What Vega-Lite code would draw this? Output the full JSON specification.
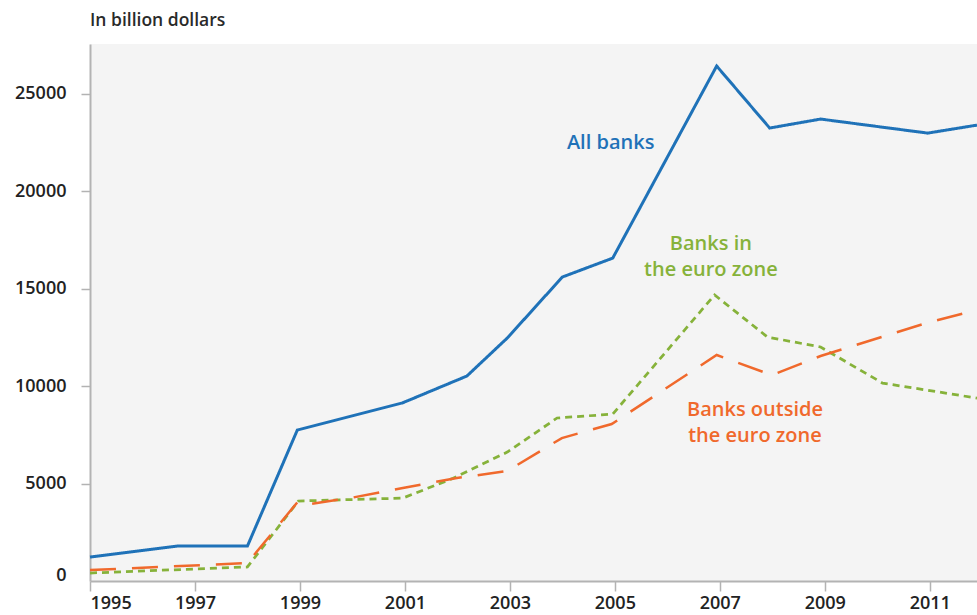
{
  "$schema": "https://vega.github.io/schema/vega-lite/v6.json",
  "autosize": {"type": "none"},
  "width": 887,
  "height": 537,
  "padding": {"left": 90, "top": 44, "right": 0, "bottom": 34},
  "background": "white",
  "config": {
    "view": {"fill": "#f4f4f4", "stroke": null},
    "font": "Open Sans"
  },
  "title": {
    "text": "In billion dollars",
    "anchor": "start",
    "frame": "group",
    "orient": "top",
    "baseline": "bottom",
    "offset": -3,
    "fontSize": 17.5,
    "fontWeight": 600,
    "color": "#2a2a2a",
    "font": "Open Sans"
  },
  "datasets": {
    "series": [
      {"series": "All banks", "year": 1995, "value": 1230},
      {"series": "All banks", "year": 1996.67, "value": 1795},
      {"series": "All banks", "year": 1998, "value": 1795},
      {"series": "All banks", "year": 1998.95, "value": 7740},
      {"series": "All banks", "year": 2000.95, "value": 9130},
      {"series": "All banks", "year": 2002.18, "value": 10510},
      {"series": "All banks", "year": 2002.95, "value": 12460},
      {"series": "All banks", "year": 2004, "value": 15590},
      {"series": "All banks", "year": 2004.96, "value": 16560},
      {"series": "All banks", "year": 2006.94, "value": 26410},
      {"series": "All banks", "year": 2007.95, "value": 23230},
      {"series": "All banks", "year": 2008.92, "value": 23690},
      {"series": "All banks", "year": 2010.96, "value": 22970},
      {"series": "All banks", "year": 2011.9, "value": 23380},

      {"series": "Banks in the euro zone", "year": 1995, "value": 410},
      {"series": "Banks in the euro zone", "year": 1998, "value": 720},
      {"series": "Banks in the euro zone", "year": 1998.97, "value": 4100},
      {"series": "Banks in the euro zone", "year": 2000.96, "value": 4250},
      {"series": "Banks in the euro zone", "year": 2001.9, "value": 5250},
      {"series": "Banks in the euro zone", "year": 2002.95, "value": 6610},
      {"series": "Banks in the euro zone", "year": 2003.9, "value": 8360},
      {"series": "Banks in the euro zone", "year": 2004.96, "value": 8560},
      {"series": "Banks in the euro zone", "year": 2006.9, "value": 14670},
      {"series": "Banks in the euro zone", "year": 2007.91, "value": 12510},
      {"series": "Banks in the euro zone", "year": 2008.92, "value": 12000},
      {"series": "Banks in the euro zone", "year": 2010.1, "value": 10150},
      {"series": "Banks in the euro zone", "year": 2011.9, "value": 9380},

      {"series": "Banks outside the euro zone", "year": 1995, "value": 560},
      {"series": "Banks outside the euro zone", "year": 1998, "value": 920},
      {"series": "Banks outside the euro zone", "year": 1998.97, "value": 4100},
      {"series": "Banks outside the euro zone", "year": 1999.19, "value": 3950},
      {"series": "Banks outside the euro zone", "year": 1999.97, "value": 4260},
      {"series": "Banks outside the euro zone", "year": 2000.96, "value": 4770},
      {"series": "Banks outside the euro zone", "year": 2001.99, "value": 5280},
      {"series": "Banks outside the euro zone", "year": 2002.95, "value": 5640},
      {"series": "Banks outside the euro zone", "year": 2003.99, "value": 7330},
      {"series": "Banks outside the euro zone", "year": 2004.94, "value": 8050},
      {"series": "Banks outside the euro zone", "year": 2006.94, "value": 11590},
      {"series": "Banks outside the euro zone", "year": 2007.99, "value": 10560},
      {"series": "Banks outside the euro zone", "year": 2008.92, "value": 11540},
      {"series": "Banks outside the euro zone", "year": 2011, "value": 13280},
      {"series": "Banks outside the euro zone", "year": 2011.9, "value": 13900}
    ],
    "labels": [
      {"series": "All banks", "text": "All banks", "year": 2004.92, "value": 22460},
      {"series": "Banks in the euro zone", "text": "Banks in\nthe euro zone", "year": 2006.83, "value": 17280},
      {"series": "Banks outside the euro zone", "text": "Banks outside\nthe euro zone", "year": 2007.67, "value": 8770}
    ]
  },
  "encoding": {
    "x": {
      "field": "year",
      "type": "quantitative",
      "scale": {"domain": [1995, 2011.9], "nice": false, "zero": false},
      "axis": {
        "title": null,
        "values": [1995, 1997, 1999, 2001, 2003, 2005, 2007, 2009, 2011],
        "format": "d",
        "grid": false,
        "domainColor": "#b3b3b3",
        "domainWidth": 2,
        "tickColor": "#b3b3b3",
        "tickWidth": 1.5,
        "tickSize": 10,
        "labelPadding": 3,
        "labelFontSize": 18,
        "labelFontWeight": 600,
        "labelColor": "#222222",
        "labelFont": "Open Sans"
      }
    },
    "y": {
      "field": "value",
      "type": "quantitative",
      "scale": {"domain": [0, 27540], "nice": false},
      "axis": {
        "title": null,
        "values": [0, 5000, 10000, 15000, 20000, 25000],
        "format": "d",
        "grid": false,
        "domainColor": "#b3b3b3",
        "domainWidth": 2,
        "tickColor": {"condition": {"test": "datum.value === 0", "value": "transparent"}, "value": "#b3b3b3"},
        "tickWidth": 1.5,
        "tickSize": 9,
        "labelPadding": 15,
        "labelOffset": {"condition": {"test": "datum.value === 0", "value": -6}, "value": 0},
        "labelFontSize": 18,
        "labelFontWeight": 600,
        "labelColor": "#222222",
        "labelFont": "Open Sans"
      }
    },
    "color": {
      "field": "series",
      "type": "nominal",
      "scale": {
        "domain": ["All banks", "Banks in the euro zone", "Banks outside the euro zone"],
        "range": ["#1f72b8", "#86b23a", "#f0692c"]
      },
      "legend": null
    }
  },
  "layer": [
    {
      "data": {"name": "series"},
      "mark": {"type": "line", "strokeJoin": "miter", "strokeCap": "butt"},
      "encoding": {
        "strokeDash": {
          "field": "series",
          "type": "nominal",
          "scale": {
            "domain": ["All banks", "Banks in the euro zone", "Banks outside the euro zone"],
            "range": [[1, 0], [7, 5], [26, 16]]
          },
          "legend": null
        },
        "size": {
          "field": "series",
          "type": "nominal",
          "scale": {
            "domain": ["All banks", "Banks in the euro zone", "Banks outside the euro zone"],
            "range": [3, 2.5, 2.5]
          },
          "legend": null
        },
        "order": {"field": "year", "type": "quantitative"}
      }
    },
    {
      "data": {"name": "labels"},
      "mark": {
        "type": "text",
        "align": "center",
        "baseline": "middle",
        "lineBreak": "\n",
        "lineHeight": 26,
        "fontSize": 20,
        "fontWeight": 600,
        "font": "Open Sans"
      },
      "encoding": {
        "text": {"field": "text", "type": "nominal"}
      }
    }
  ]
}
